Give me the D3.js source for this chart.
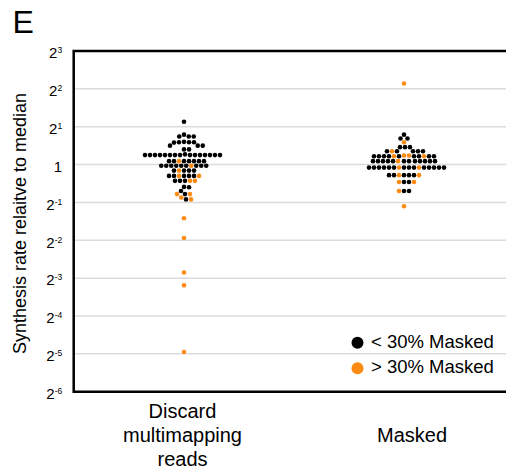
<!DOCTYPE html>
<html>
<head>
<meta charset="utf-8">
<script src="https://cdn.jsdelivr.net/npm/d3@7"></script>
<style>
  body { margin: 0; background: #fff; }
  svg { display: block; font-family: Helvetica, "Liberation Sans", Arial, sans-serif; }
</style>
</head>
<body>
<svg id="chart" width="506" height="470"></svg>
<script>
// categories (x) and y ticks, values are log2(rate / median)
const categories = ["Discard multimapping reads", "Masked"];
const categoryLines = [["Discard", "multimapping", "reads"], ["Masked"]];
const yTicks = [-6, -5, -4, -3, -2, -1, 0, 1, 2, 3];

const discardBlack = [
  1.13,
  0.79, 0.74, 0.74, 0.74,
  0.60, 0.59, 0.59, 0.59, 0.58,
  0.50, 0.50, 0.50,
  0.40, 0.40,
  0.27, 0.25, 0.25, 0.25, 0.25, 0.25, 0.25, 0.25, 0.25, 0.25, 0.25, 0.25, 0.25, 0.25, 0.25, 0.25,
  0.09, 0.09, 0.09, 0.09, 0.09, 0.09, 0.09,
  -0.03, -0.03, -0.03, -0.03, -0.03, -0.03, -0.03, -0.03, -0.03,
  -0.16, -0.16, -0.16, -0.16,
  -0.30, -0.30, -0.30, -0.30, -0.30,
  -0.43, -0.43, -0.43,
  -0.59, -0.60, -0.70,
  -0.78,
  -0.92
];
const discardOrange = [
  0.09, -0.03, -0.16, -0.30, -0.30, -0.43, -0.43, -0.78, -0.78, -0.87, -0.92,
  -1.42, -1.94, -2.85, -3.19, -4.95
];
const maskedBlack = [
  0.79,
  0.69, 0.69,
  0.46, 0.46, 0.46,
  0.35, 0.35, 0.35, 0.35, 0.35,
  0.22, 0.22, 0.22, 0.22, 0.22, 0.22, 0.22, 0.22, 0.22,
  0.09, 0.09, 0.09, 0.09, 0.09, 0.09, 0.09, 0.09, 0.09, 0.09, 0.09, 0.09,
  -0.08, -0.08, -0.08, -0.08, -0.08, -0.08, -0.08, -0.08, -0.08, -0.08, -0.08, -0.08, -0.08, -0.08,
  -0.28, -0.28, -0.28, -0.28, -0.28,
  -0.46, -0.46,
  -0.70, -0.70
];
const maskedOrange = [
  2.14, 0.59, 0.35, 0.24, 0.24, 0.22, 0.22, 0.09, -0.08, -0.08, -0.28, -0.28, -0.46, -0.46, -0.70, -1.10
];

const legendLabels = ["< 30% Masked", "> 30% Masked"];
const colors = ["#000000", "#fb8b12"];

// =========================
// LAYOUT
// =========================
const svg = d3.select("#chart");
const plotL = 73.7, plotR = 506, plotT = 51, plotB = 391.7;

const y = d3.scaleLinear().domain([-6, 3]).range([plotB, plotT]);
const x = d3.scalePoint().domain(categories).range([184, 404]);

// panel letter
svg.append("text")
  .attr("x", 12.5).attr("y", 33)
  .style("font-size", "32px")
  .text("E");

// gridlines
svg.append("g").selectAll("line")
  .data(yTicks.filter(t => t > -6 && t < 3))
  .enter().append("line")
  .attr("x1", plotL).attr("x2", plotR)
  .attr("y1", d => y(d)).attr("y2", d => y(d))
  .attr("stroke", "#dcdcdc")
  .attr("stroke-width", 1.5);

// y axis labels with superscript powers
const yAxis = svg.append("g")
  .attr("transform", `translate(${plotL},0)`)
  .call(d3.axisLeft(y).tickValues(yTicks).tickSize(0).tickPadding(11.5).tickFormat(""));
yAxis.attr("font-family", null).attr("font-size", null);
yAxis.select(".domain").remove();
yAxis.selectAll("text")
  .attr("dy", "0.45em")
  .style("font-size", "15px")
  .attr("fill", "#000")
  .each(function (d) {
    const t = d3.select(this);
    if (d === 0) { t.text("1"); return; }
    t.append("tspan").text("2");
    t.append("tspan").attr("dy", -5).style("font-size", "8.5px").text(d);
  });

// y title
svg.append("text")
  .attr("transform", "translate(19.5,223.5) rotate(-90)")
  .attr("text-anchor", "middle")
  .attr("dominant-baseline", "central")
  .style("font-size", "18px")
  .text("Synthesis rate relaitve to median");

// =========================
// BEESWARM (greedy, centre-out)
// =========================
const minDist = 5;
function swarm(black, orange) {
  // order rows top -> bottom; inside a row, oranges go in after a couple of blacks
  const rows = d3.groups(
    black.map(v => ({ v, c: 0 })).concat(orange.map(v => ({ v, c: 1 }))),
    d => d.v
  ).sort((a, b) => b[0] - a[0]);
  const pts = [];
  rows.forEach(([, arr]) => {
    const blk = arr.filter(d => d.c === 0), org = arr.filter(d => d.c === 1);
    org.forEach((o, j) => blk.splice(Math.min(blk.length, 2 + j * 3), 0, o));
    pts.push(...blk);
  });
  const placed = [];
  pts.forEach(p => {
    p.y = y(p.v);
    for (let k = 0; k < 2000; k++) {
      const dx = (k % 2 ? 1 : -1) * Math.ceil(k / 2) * 0.25;
      if (placed.every(q => (q.dx - dx) ** 2 + (q.y - p.y) ** 2 >= minDist * minDist - 0.01)) {
        p.dx = dx;
        break;
      }
    }
    placed.push(p);
  });
  return placed;
}

const groups = [swarm(discardBlack, discardOrange), swarm(maskedBlack, maskedOrange)];
groups.forEach((pts, i) => {
  svg.append("g").selectAll("circle")
    .data(pts)
    .enter().append("circle")
    .attr("cx", d => x(categories[i]) + d.dx)
    .attr("cy", d => d.y)
    .attr("r", 2.3)
    .attr("fill", d => colors[d.c]);
});

// frame (left, top, bottom)
svg.append("path")
  .attr("d", `M${plotR},${plotT}H${plotL}V${plotB}H${plotR}`)
  .attr("stroke", "#000").attr("stroke-width", 2.5).attr("fill", "none");

// category labels
const labelShift = [-1.5, 8];
categoryLines.forEach((lines, i) => {
  const t = svg.append("text")
    .attr("text-anchor", "middle")
    .style("font-size", "20px");
  lines.forEach((ln, j) => {
    t.append("tspan")
      .attr("x", x(categories[i]) + labelShift[i])
      .attr("y", 441.5 + (j - (lines.length - 1) / 2) * 24)
      .text(ln);
  });
});

// legend
const legend = svg.append("g");
legendLabels.forEach((lab, i) => {
  legend.append("circle")
    .attr("cx", 357.5).attr("cy", 342.7 + i * 25.6)
    .attr("r", 6)
    .attr("fill", colors[i]);
  legend.append("text")
    .attr("x", 371).attr("y", 348.3 + i * 25)
    .style("font-size", "18.5px")
    .text(lab);
});
</script>
</body>
</html>
